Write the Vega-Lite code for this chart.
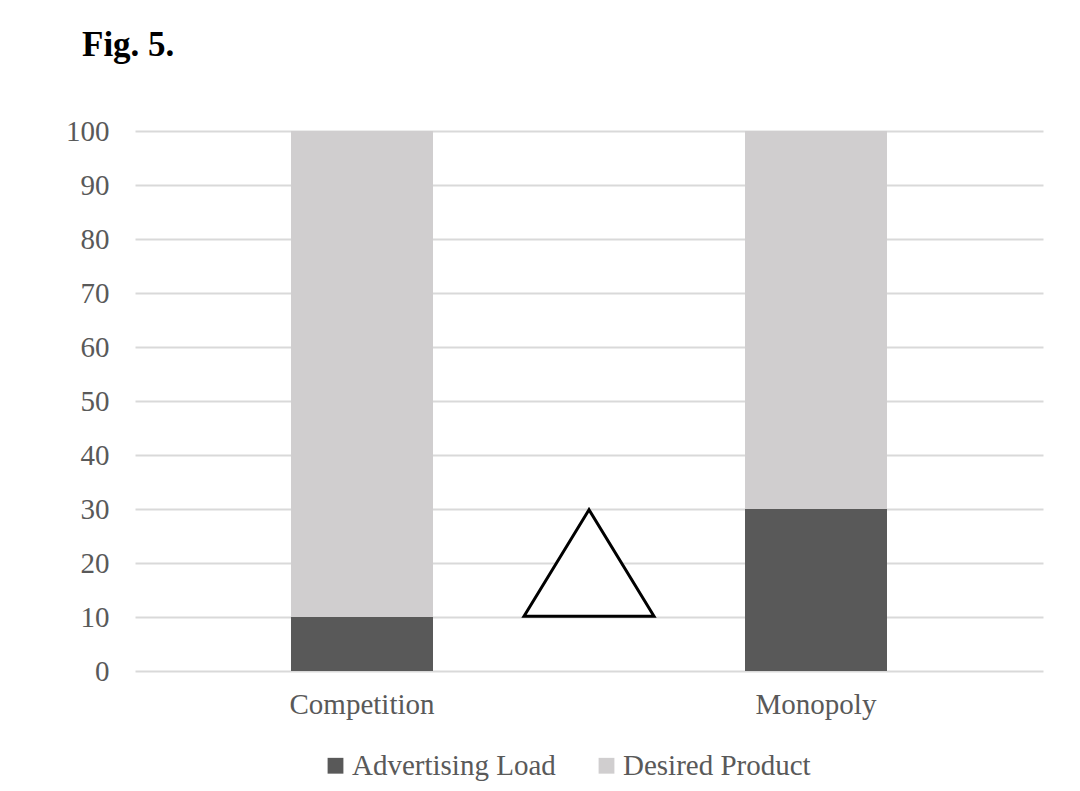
{
  "$schema": "https://vega.github.io/schema/vega-lite/v6.json",
  "autosize": "none",
  "width": 908,
  "height": 540,
  "padding": {"left": 135, "top": 131, "right": 37, "bottom": 120},
  "background": "white",
  "title": {
    "text": "Fig. 5.",
    "anchor": "start",
    "frame": "group",
    "dx": -53,
    "offset": 54,
    "font": "Liberation Serif",
    "fontSize": 35,
    "fontWeight": "bold",
    "color": "black"
  },
  "config": {
    "view": {"stroke": null},
    "font": "Liberation Serif"
  },
  "layer": [
    {
      "data": {
        "values": [
          {"market": "Competition", "component": "Advertising Load", "value": 10},
          {"market": "Competition", "component": "Desired Product", "value": 90},
          {"market": "Monopoly", "component": "Advertising Load", "value": 30},
          {"market": "Monopoly", "component": "Desired Product", "value": 70}
        ]
      },
      "mark": {"type": "bar", "size": 142},
      "encoding": {
        "x": {
          "field": "market",
          "type": "nominal",
          "sort": ["Competition", "Monopoly"],
          "scale": {"paddingInner": 0, "paddingOuter": 0},
          "axis": {
            "title": null,
            "labelAngle": 0,
            "labelFont": "Liberation Serif",
            "labelFontSize": 29,
            "labelColor": "#595959",
            "labelPadding": 19,
            "ticks": false,
            "domain": false,
            "grid": false
          }
        },
        "y": {
          "field": "value",
          "type": "quantitative",
          "stack": "zero",
          "scale": {"domain": [0, 100]},
          "axis": {
            "title": null,
            "values": [0, 10, 20, 30, 40, 50, 60, 70, 80, 90, 100],
            "labelFont": "Liberation Serif",
            "labelFontSize": 29,
            "labelColor": "#595959",
            "labelPadding": 26,
            "ticks": false,
            "domain": false,
            "grid": true,
            "gridColor": "#d9d9d9",
            "gridWidth": 2
          }
        },
        "color": {
          "field": "component",
          "type": "nominal",
          "scale": {
            "domain": ["Advertising Load", "Desired Product"],
            "range": ["#595959", "#d0cecf"]
          },
          "legend": {
            "title": null,
            "orient": "none",
            "direction": "horizontal",
            "legendX": 186,
            "legendY": 620,
            "symbolType": "square",
            "symbolSize": 250,
            "symbolStrokeWidth": 0,
            "labelFont": "Liberation Serif",
            "labelFontSize": 29,
            "labelColor": "#595959",
            "labelOffset": 2,
            "labelLimit": 0,
            "columnPadding": 36
          }
        },
        "order": {"field": "component", "sort": "ascending"}
      }
    },
    {
      "data": {"values": [{"market": "Competition", "level": 20}]},
      "mark": {
        "type": "point",
        "shape": "M0,-0.82L-1,0.82L1,0.82Z",
        "size": 16900,
        "filled": false,
        "fill": "white",
        "fillOpacity": 1,
        "stroke": "black",
        "strokeWidth": 3,
        "opacity": 1
      },
      "encoding": {
        "x": {"field": "market", "type": "nominal", "bandPosition": 1},
        "y": {"field": "level", "type": "quantitative"}
      }
    }
  ]
}
